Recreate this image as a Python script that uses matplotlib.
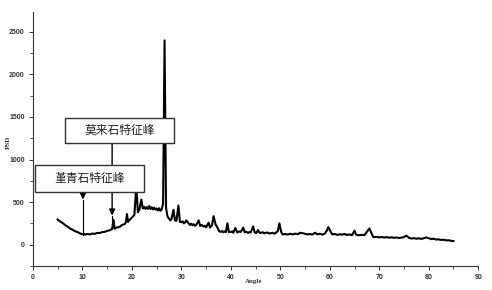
import matplotlib.pyplot as plt
from matplotlib.patches import Rectangle
from matplotlib.ticker import MultipleLocator

plt.rcParams['font.family'] = ['Noto Sans CJK SC', 'DejaVu Sans']

# 衍射图谱数据 (Angle, PSD)
angle = [5.0, 5.5, 6.0, 6.5, 7.0, 7.5, 8.0, 8.5, 9.0, 9.5,
         10.0, 10.3, 10.5, 11.0, 11.5, 12.0, 12.5, 13.0, 13.5, 14.0,
         14.5, 15.0, 15.5, 16.0, 16.3, 16.5, 17.0, 17.5, 18.0, 18.5,
         18.8, 19.0, 19.2, 19.5, 20.0, 20.5, 20.9, 21.2, 21.5, 21.9,
         22.2, 22.5, 22.75, 23.0, 23.25, 23.5, 23.75, 24.0, 24.25, 24.5,
         24.75, 25.0, 25.25, 25.5, 25.75, 26.0, 26.3,
         26.6, 26.9, 27.2, 27.5, 27.75, 28.0, 28.4, 28.7, 29.0, 29.4, 29.7,
         30.0, 30.25, 30.5, 30.75, 31.0, 31.5, 31.75, 32.0, 32.25, 32.5,
         32.75, 33.0, 33.5, 33.8, 34.1, 34.5, 34.75,
         35.0, 35.5, 35.8, 36.2, 36.5, 36.9, 37.3, 37.6, 38.0, 38.25, 38.5,
         38.75, 39.0, 39.3, 39.6, 40.0, 40.25, 40.5, 40.9, 41.3, 41.6, 42.0,
         42.5, 42.8, 43.1, 43.5, 43.75,
         44.0, 44.5, 44.8, 45.1, 45.5, 45.8, 46.0, 46.5, 46.75, 47.0, 47.5,
         47.75, 48.0, 48.5, 48.75,
         49.0, 49.5, 49.8, 50.2, 50.5, 51.0, 51.5, 52.0, 52.5, 53.0,
         53.5, 54.0, 54.5, 55.0, 55.5, 56.0, 56.5, 57.0, 57.5, 58.0,
         58.5, 59.0, 59.4, 59.7, 60.2, 60.5, 61.0, 61.5, 62.0, 62.5,
         63.0, 63.5, 64.0, 64.5, 65.0, 65.3, 65.8, 66.5, 67.0, 67.5,
         68.0, 68.4, 68.8, 69.5, 70.0, 70.5, 71.0, 71.5, 72.0, 72.5,
         73.0, 73.5, 74.0, 74.5, 75.0, 75.5, 76.0, 76.5, 77.0, 77.5,
         78.0, 78.5, 79.0, 79.5, 80.0, 80.5, 81.0, 81.5, 82.0, 82.5,
         83.0, 83.5, 84.0, 84.5, 85.0]
psd = [295, 272, 255, 230, 212, 190, 176, 158, 148, 133,
       122, 128, 118, 126, 120, 130, 127, 138, 136, 148,
       150, 163, 168, 184, 290, 188, 203, 208, 232, 240,
       262, 360, 268, 290, 318, 350, 700, 380, 410, 530,
       425, 445, 420, 440, 422, 455, 418, 440, 415, 435,
       412, 425, 402, 428, 398, 410, 480,
       2400, 430, 330, 305, 285, 300, 410, 285, 280, 460, 268,
       265, 275, 250, 262, 285, 248, 232, 245, 228, 240,
       222, 232, 285, 220, 232, 212, 222,
       205, 258, 200, 230, 335, 240, 200, 160, 150, 162, 145,
       155, 148, 250, 150, 148, 158, 140, 195, 142, 155, 150,
       200, 145, 152, 138, 148,
       142, 215, 148, 135, 170, 140, 138, 145, 132, 140, 142,
       130, 133, 140, 128,
       135, 160, 250, 145, 120, 125, 118, 128, 120, 130,
       122, 140, 135, 128, 120, 125, 118, 140, 122, 128,
       118, 130, 165, 205, 150, 120, 125, 115, 122, 118,
       125, 114, 120, 112, 165, 118, 110, 115, 112, 150,
       190, 140, 88, 92, 85, 90, 84, 88, 82, 86,
       80, 84, 78, 82, 90, 106, 80, 72, 76, 70,
       74, 68, 75, 85, 76, 65, 70, 60, 62, 55,
       58, 50, 52, 45, 42]

# 标注：文字、方框 (x0, x1, y0, y1)、箭头 (x, 起点, 箭头尖, 曲线处)
labels = ['莫来石特征峰', '堇青石特征峰']
boxes = [(6.5, 28.5, 1200, 1494), (0.4, 22.5, 623, 941)]
arrows = [(16.0, 1200, 341, 215), (10.1, 623, 530, 115)]

fig = plt.figure(figsize=(4.92, 2.90), dpi=100)
ax = fig.add_axes([0.067, 0.083, 0.905, 0.876])

ax.plot(angle, psd, color='black', linewidth=1.5, zorder=2)

for text, (x0, x1, y0, y1) in zip(labels, boxes):
    ax.add_patch(Rectangle((x0, y0), x1 - x0, y1 - y0, facecolor='white',
                           edgecolor='#333333', linewidth=1.0, zorder=4))
    ax.text((x0 + x1) / 2, (y0 + y1) / 2, text, ha='center', va='center',
            fontsize=8.5, color='#222222', zorder=5)

for x, y_start, y_tip, y_end in arrows:
    ax.plot([x, x], [y_tip, y_end], color='black', linewidth=0.8, zorder=3)
    ax.annotate('', xy=(x, y_tip), xytext=(x, y_start),
                arrowprops=dict(arrowstyle='-|>', color='black', lw=1.0,
                                mutation_scale=9, shrinkA=0, shrinkB=0),
                zorder=3)

ax.set_xlim(0, 90)
ax.xaxis.set_major_locator(MultipleLocator(10))
ax.xaxis.set_minor_locator(MultipleLocator(5))
ax.yaxis.set_minor_locator(MultipleLocator(250))
ax.set_yticks(range(0, 3000, 500))
ax.set_ylim(-250, 2735)

for side in ['top', 'right']:
    ax.spines[side].set_visible(False)
for side in ['left', 'bottom']:
    ax.spines[side].set_color('#333333')
    ax.spines[side].set_linewidth(0.8)

ax.tick_params(which='major', direction='out', length=3, width=0.7,
               color='#333333', labelsize=5, pad=3)
ax.tick_params(which='minor', direction='out', length=2, width=0.6,
               color='#333333')
for lab in ax.get_xticklabels() + ax.get_yticklabels():
    lab.set_fontfamily('Liberation Sans')
    lab.set_fontweight('bold')
    lab.set_color('#333333')

fig.text(254 / 492, 1 - 282 / 290, 'Angle', ha='center', va='center',
         fontsize=5, fontweight='bold', family='Liberation Serif', color='#333333')
fig.text(8 / 492, 1 - 142 / 290, 'PSD', ha='center', va='center', rotation=90,
         fontsize=5, fontweight='bold', family='Liberation Serif', color='#333333')

plt.savefig('out.png', dpi=100)
